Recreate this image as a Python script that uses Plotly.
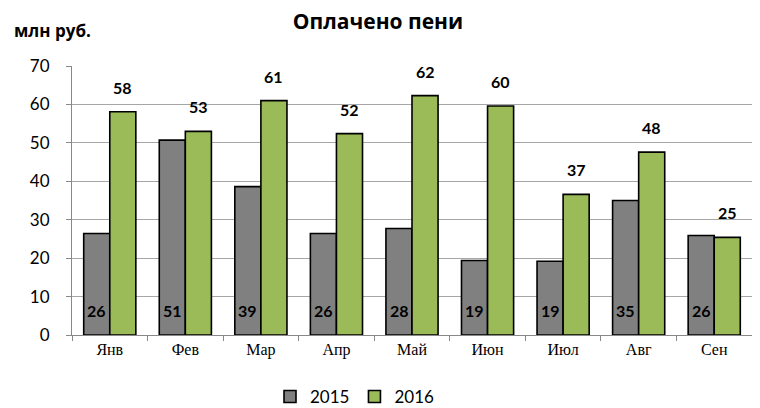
import plotly.graph_objects as go

months = ["Янв", "Фев", "Мар", "Апр", "Май", "Июн", "Июл", "Авг", "Сен"]
v2015 = [26.4, 50.7, 38.6, 26.4, 27.7, 19.4, 19.2, 35.0, 25.9]
v2016 = [58.1, 53.0, 61.0, 52.4, 62.3, 59.6, 36.6, 47.6, 25.4]
series_names = ["2015", "2016"]
yticks = [0, 10, 20, 30, 40, 50, 60, 70]

NUM_FONT = "Lato, 'Open Sans', sans-serif"
CYR_FONT = "'Open Sans', sans-serif"

# page body has an 8px margin; figure laid out in its own coordinates
W, H = 752, 400
L, R, T, B = 64, 8, 58, 73
PH = H - T - B

fig = go.Figure()
fig.add_trace(go.Bar(x=months, y=v2015, name=series_names[0],
                     marker=dict(color="#808080", line=dict(color="#000000", width=1.6))))
fig.add_trace(go.Bar(x=months, y=v2016, name=series_names[1],
                     marker=dict(color="#9BBB59", line=dict(color="#000000", width=1.6))))

BAR_HALF = 13
ann = []
for m, a, b in zip(months, v2015, v2016):
    ann.append(dict(x=m, y=0, text=f"<b>{round(a)}</b>", showarrow=False,
                    xshift=-BAR_HALF, yshift=13, yanchor="bottom", xanchor="center",
                    font=dict(family=NUM_FONT, size=16, color="#000")))
    ann.append(dict(x=m, y=b, text=f"<b>{round(b)}</b>", showarrow=False,
                    xshift=BAR_HALF, yshift=13, yanchor="bottom", xanchor="center",
                    font=dict(family=NUM_FONT, size=16, color="#000")))
ann.append(dict(xref="paper", yref="paper", x=(4 - L) / (W - L - R), y=(T + PH - 22) / PH,
                xanchor="left", yanchor="middle",
                text="<b>млн руб.</b>", showarrow=False,
                font=dict(family=CYR_FONT, size=17, color="#000")))

fig.update_layout(
    width=W, height=H,
    margin=dict(l=L, r=R, t=T, b=B, autoexpand=False),
    paper_bgcolor="white", plot_bgcolor="white",
    barmode="group", bargap=0.31, bargroupgap=0.0,
    title=dict(text="<b>Оплачено пени</b>", x=370 / W, xanchor="center", xref="container",
               y=1 - 13.5 / H, yanchor="middle",
               font=dict(family=CYR_FONT, size=21, color="#000")),
    xaxis=dict(showline=True, linecolor="#888888", linewidth=1, ticks="outside",
               tickson="boundaries", ticklen=5, tickcolor="#888888",
               tickfont=dict(family="'Liberation Serif', 'Times New Roman', serif", size=16, color="#000"),
               showgrid=False),
    yaxis=dict(range=[0, 70], tickvals=yticks, showline=True, linecolor="#888888", linewidth=1,
               ticks="outside", ticklen=5, tickcolor="#888888", ticklabelstandoff=13,
               showgrid=True, gridcolor="#A6A6A6", gridwidth=1, zeroline=False,
               tickfont=dict(family=NUM_FONT, size=17, color="#000")),
    legend=dict(orientation="h", x=(262 - L) / (W - L - R), xanchor="left",
                y=(T + PH - 389) / PH, yanchor="middle",
                font=dict(family=NUM_FONT, size=17, color="#000"), itemwidth=30),
    annotations=ann,
)
fig.write_html("out.html")
